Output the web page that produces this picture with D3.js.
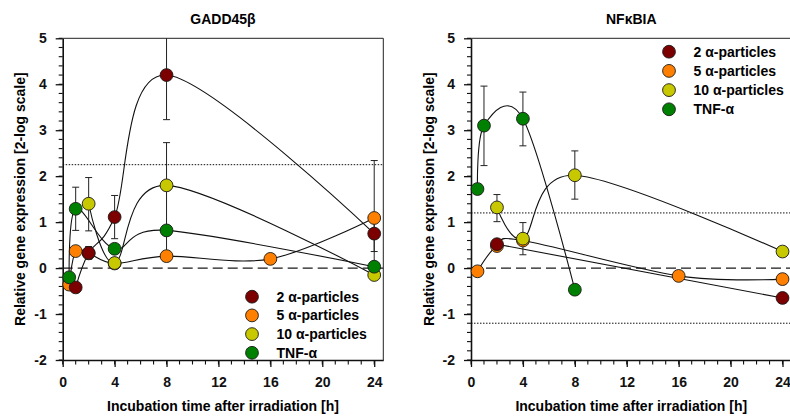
<!DOCTYPE html>
<html>
<head>
<meta charset="utf-8">
<script src="https://cdn.jsdelivr.net/npm/d3@7"></script>
<style>
  body { margin: 0; background: #fff; }
  svg { font-family: "Liberation Sans", Arial, sans-serif; font-weight: bold; }
</style>
</head>
<body>
<svg id="chart" width="790" height="417"></svg>
<script>
// ---- data ----
const seriesNames = ["2 α-particles", "5 α-particles", "10 α-particles", "TNF-α"];
const xTicks = [0, 4, 8, 12, 16, 20, 24];
const yTicks = [-2, -1, 0, 1, 2, 3, 4, 5];

// GADD45β
const gadd2Time = [1, 2, 4, 8, 24];
const gadd2Val = [-0.42, 0.33, 1.11, 4.2, 0.75];
const gadd5Time = [0.5, 1, 2, 4, 8, 16, 24];
const gadd5Val = [-0.36, 0.37, 0.32, 0.1, 0.26, 0.2, 1.09];
const gadd10Time = [2, 4, 8, 24];
const gadd10Val = [1.4, 0.11, 1.8, -0.15];
const gaddTnfTime = [0.5, 1, 4, 8, 24];
const gaddTnfVal = [-0.2, 1.29, 0.42, 0.82, 0.03];
// error bars: [time, low end, high end]
const gaddErrors = [
  [1, 0.82, 1.76], [2, 0.81, 1.97], [2, 0.19, 0.47], [4, 0.64, 1.58],
  [8, 3.23, 5.17], [8, 0.87, 2.73], [8, 0.26, 0.82],
  [24, -0.16, 2.34], [24, 0.36, 1.14]
];
const gaddThresholds = [2.25];

// NFκBIA
const nfk2Time = [2, 24];
const nfk2Val = [0.52, -0.65];
const nfk5Time = [0.5, 2, 4, 16, 24];
const nfk5Val = [-0.07, 0.48, 0.6, -0.17, -0.24];
const nfk10Time = [2, 4, 8, 24];
const nfk10Val = [1.32, 0.64, 2.02, 0.36];
const nfkTnfTime = [0.5, 1, 4, 8];
const nfkTnfVal = [1.72, 3.1, 3.25, -0.47];
const nfkErrors = [
  [1, 2.23, 3.96], [4, 2.66, 3.83], [2, 1.01, 1.6], [4, 0.29, 0.99], [8, 1.5, 2.55]
];
const nfkThresholds = [1.2, -1.2];

const seriesColors = ["#7c0000", "#ff8000", "#c8c800", "#008000"];
const drawOrder = [1, 0, 2, 3];

const zip = (xs, ys) => xs.map((x, i) => ({x: x, y: ys[i]}));

class GenePanel {
  constructor(_config, _series, _errors, _thresholds) {
    this.config = {
      left: _config.left,
      top: _config.top || 38.3,
      width: _config.width || 320.6,
      height: _config.height || 321.7,
      title: _config.title,
      legend: _config.legend,
      id: _config.id
    };
    this.series = _series;
    this.errors = _errors;
    this.thresholds = _thresholds;
    this.initVis();
  }

  initVis() {
    let vis = this;
    const c = vis.config;

    vis.xScale = d3.scaleLinear().domain([0, 24.7]).range([0, c.width]);
    vis.yScale = d3.scaleLinear().domain([-2, 5]).range([c.height, 0]);

    vis.chart = d3.select('#chart').append('g')
      .attr('transform', `translate(${c.left},${c.top})`);

    vis.chart.append('clipPath').attr('id', 'clip-' + c.id)
      .append('rect').attr('width', c.width).attr('height', c.height);

    // minor ticks, drawn by hand from the scales
    const yMinor = d3.range(-2, 5.001, 0.2).map(v => +v.toFixed(1));
    const xMinor = d3.range(0, 25, 1);
    vis.chart.append('g').selectAll('line')
      .data(yMinor)
      .join('line')
      .attr('x1', -4).attr('x2', 0)
      .attr('y1', d => vis.yScale(d)).attr('y2', d => vis.yScale(d))
      .attr('stroke', '#111').attr('stroke-width', 1.1);
    vis.chart.append('g').selectAll('line')
      .data(xMinor)
      .join('line')
      .attr('x1', d => vis.xScale(d)).attr('x2', d => vis.xScale(d))
      .attr('y1', c.height).attr('y2', c.height + 4.5)
      .attr('stroke', '#111').attr('stroke-width', 1.1);

    // major axes
    vis.chart.append('g')
      .attr('class', 'y-axis')
      .call(d3.axisLeft(vis.yScale).tickValues(yTicks).tickSize(7).tickPadding(9)
        .tickSizeOuter(0).tickFormat(d => String(d)))
      .call(g => g.selectAll('text').style('font-size', '14px').attr('fill', '#111'));
    vis.chart.append('g')
      .attr('class', 'x-axis')
      .attr('transform', `translate(0,${c.height})`)
      .call(d3.axisBottom(vis.xScale).tickValues(xTicks).tickSize(7).tickPadding(10)
        .tickSizeOuter(0).tickFormat(d => String(d)))
      .call(g => g.selectAll('text').style('font-size', '14px').attr('fill', '#111'));
    vis.chart.selectAll('.tick line').attr('stroke', '#111').attr('stroke-width', 1.3);
    vis.chart.selectAll('.domain').attr('stroke', '#111').attr('stroke-width', 1.6);

    // top and right frame
    vis.chart.append('path')
      .attr('d', `M0,0H${c.width}V${c.height}`)
      .attr('fill', 'none').attr('stroke', '#222');

    // titles
    vis.chart.append('text')
      .attr('x', c.width / 2).attr('y', 24 - c.top)
      .attr('text-anchor', 'middle').style('font-size', '14px')
      .text(c.title);
    vis.chart.append('text')
      .attr('x', c.width / 2).attr('y', 411.5 - c.top)
      .attr('text-anchor', 'middle').style('font-size', '14px')
      .text('Incubation time after irradiation [h]');
    vis.chart.append('text')
      .attr('transform', 'rotate(-90)')
      .attr('x', -c.height / 2).attr('y', -37.5)
      .attr('text-anchor', 'middle').style('font-size', '14px')
      .text('Relative gene expression [2-log scale]');
  }

  renderVis() {
    let vis = this;
    const c = vis.config;
    const plot = vis.chart.append('g').attr('clip-path', `url(#clip-${c.id})`);

    // reference lines
    plot.append('line')
      .attr('x1', 0).attr('x2', c.width)
      .attr('y1', vis.yScale(0)).attr('y2', vis.yScale(0))
      .attr('stroke', '#1a1a1a').attr('stroke-width', 1.1).attr('stroke-dasharray', '10,5');
    plot.selectAll('.thr')
      .data(vis.thresholds)
      .join('line')
      .attr('class', 'thr')
      .attr('x1', 0).attr('x2', c.width)
      .attr('y1', d => vis.yScale(d)).attr('y2', d => vis.yScale(d))
      .attr('stroke', '#111').attr('stroke-dasharray', '1.5,1.5');

    // spline curves (uniform Catmull-Rom)
    const line = d3.line()
      .x(d => vis.xScale(d.x))
      .y(d => vis.yScale(d.y))
      .curve(d3.curveCatmullRom.alpha(0));
    plot.selectAll('.curve')
      .data(vis.series)
      .join('path')
      .attr('class', 'curve')
      .attr('d', d => line(d))
      .attr('fill', 'none').attr('stroke', '#111').attr('stroke-width', 1.1);

    // error bars
    const eb = plot.selectAll('.err')
      .data(vis.errors)
      .join('g')
      .attr('class', 'err')
      .attr('stroke', '#222').attr('stroke-width', 1);
    eb.append('line')
      .attr('x1', d => vis.xScale(d[0])).attr('x2', d => vis.xScale(d[0]))
      .attr('y1', d => vis.yScale(d[1])).attr('y2', d => vis.yScale(d[2]));
    [1, 2].forEach(k => {
      eb.append('line')
        .attr('x1', d => vis.xScale(d[0]) - 3.5).attr('x2', d => vis.xScale(d[0]) + 3.5)
        .attr('y1', d => vis.yScale(d[k])).attr('y2', d => vis.yScale(d[k]));
    });

    // points
    drawOrder.forEach(i => {
      vis.chart.append('g').selectAll('circle')
        .data(vis.series[i])
        .join('circle')
        .attr('cx', d => vis.xScale(d.x))
        .attr('cy', d => vis.yScale(d.y))
        .attr('r', 6.4)
        .attr('fill', seriesColors[i])
        .attr('stroke', '#1a1a1a').attr('stroke-width', 0.9);
    });

    // legend
    const lg = vis.chart.append('g')
      .attr('transform', `translate(${c.legend.x},${c.legend.y})`);
    const rows = lg.selectAll('g')
      .data(seriesNames)
      .join('g')
      .attr('transform', (d, i) => `translate(0,${i * c.legend.step})`);
    rows.append('circle')
      .attr('r', 6.4)
      .attr('fill', (d, i) => seriesColors[i])
      .attr('stroke', '#1a1a1a').attr('stroke-width', 0.9);
    rows.append('text')
      .attr('x', 24.5).attr('dy', '0.36em')
      .style('font-size', '14px')
      .text(d => d);
  }
}

const gadd = new GenePanel(
  {id: 'gadd', left: 62.7, title: 'GADD45β', legend: {x: 189.3, y: 258.4, step: 18.7}},
  [zip(gadd2Time, gadd2Val), zip(gadd5Time, gadd5Val), zip(gadd10Time, gadd10Val), zip(gaddTnfTime, gaddTnfVal)],
  gaddErrors, gaddThresholds);
gadd.renderVis();

const nfk = new GenePanel(
  {id: 'nfk', left: 471, title: 'NFκBIA', legend: {x: 198, y: 13.4, step: 19.2}},
  [zip(nfk2Time, nfk2Val), zip(nfk5Time, nfk5Val), zip(nfk10Time, nfk10Val), zip(nfkTnfTime, nfkTnfVal)],
  nfkErrors, nfkThresholds);
nfk.renderVis();
</script>
</body>
</html>
